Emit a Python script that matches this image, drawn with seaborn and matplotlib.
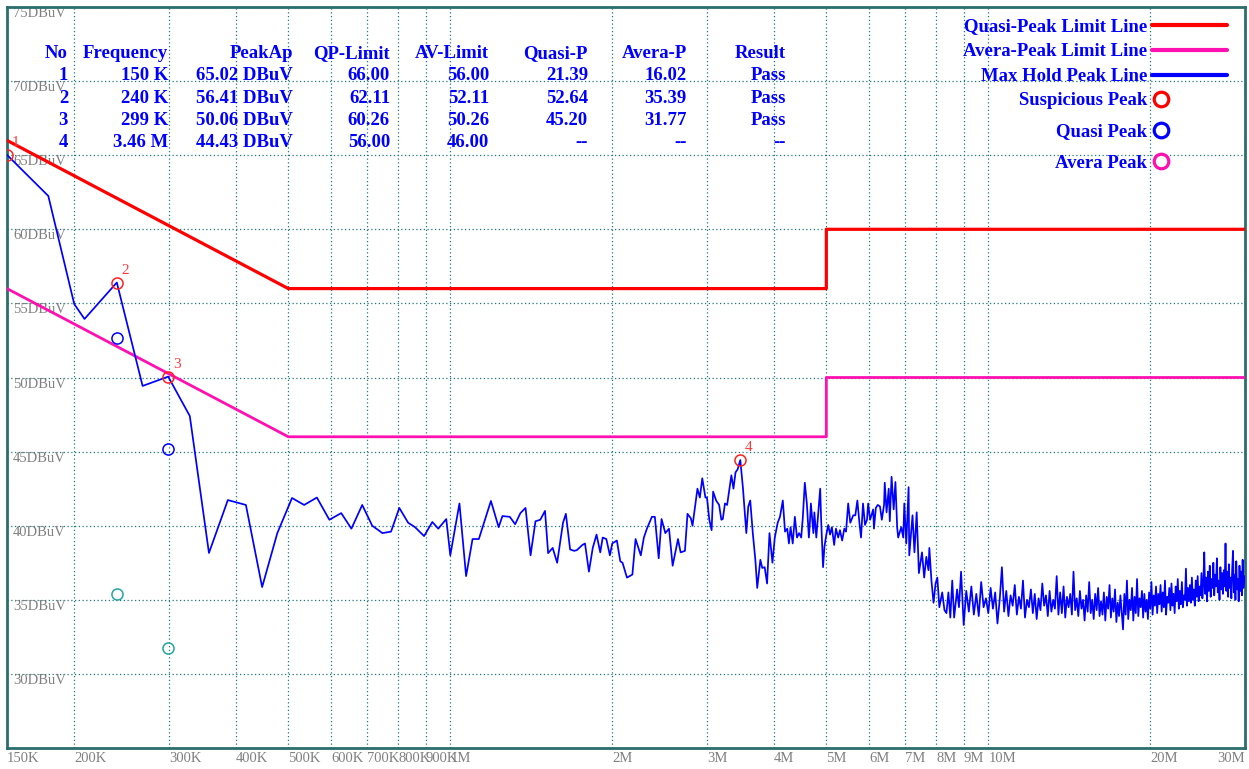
"""
plot.py - conducted emission scan (150 kHz - 30 MHz) with QP / AV limit lines.
"""

import numpy as np
import matplotlib
matplotlib.use("Agg")
import matplotlib.pyplot as plt
import seaborn as sns
from matplotlib.legend_handler import HandlerLine2DCompound
from matplotlib.lines import Line2D

# ---- max hold trace (MHz / dBuV) ----
low_freq = [0.150, 0.179, 0.200, 0.209, 0.240, 0.268, 0.299, 0.328, 0.356, 0.386,
            0.417, 0.447, 0.477, 0.508, 0.535, 0.565, 0.596, 0.627, 0.655, 0.686,
            0.716, 0.748, 0.776, 0.804, 0.835, 0.860, 0.894, 0.926, 0.950, 0.983,
            1.00, 1.04, 1.07, 1.10, 1.13, 1.19, 1.23, 1.25, 1.29, 1.32,
            1.35, 1.38, 1.41, 1.44, 1.47, 1.50, 1.52, 1.55, 1.58, 1.62,
            1.64, 1.67]
low_level = [65.02, 62.25, 54.96, 53.95, 56.41, 49.43, 50.06, 47.4, 38.16, 41.73,
             41.4, 35.86, 39.5, 41.87, 41.4, 41.9, 40.4, 40.85, 39.8, 41.4,
             40.0, 39.5, 39.6, 41.2, 40.2, 39.9, 39.3, 40.25, 39.8, 40.45,
             38.0, 41.5, 36.6, 39.1, 39.1, 41.67, 39.9, 40.65, 40.6, 40.1,
             40.85, 41.2, 38.0, 40.3, 40.4, 41.0, 38.15, 38.5, 37.5, 40.2,
             40.8, 38.4]

mid_freq = [1.70, 1.72, 1.76, 1.78, 1.81, 1.84, 1.87, 1.90, 1.92, 1.95,
            1.98, 2.00, 2.04, 2.07, 2.09, 2.13, 2.18, 2.21, 2.26, 2.29,
            2.32, 2.37, 2.40, 2.44, 2.47, 2.51, 2.55, 2.59, 2.65, 2.68,
            2.73, 2.76, 2.80, 2.82, 2.88, 2.91, 2.94, 2.98, 3.00, 3.03,
            3.06, 3.08, 3.12, 3.16, 3.19, 3.21, 3.24, 3.27, 3.33, 3.36,
            3.39, 3.42, 3.46, 3.50, 3.52, 3.55, 3.58, 3.61, 3.65, 3.69,
            3.72, 3.77, 3.80, 3.84, 3.88, 3.92, 3.97, 4.01, 4.06, 4.10,
            4.15, 4.19, 4.23, 4.26, 4.29, 4.33, 4.37, 4.41, 4.45, 4.49,
            4.52, 4.56, 4.60, 4.64, 4.66, 4.68, 4.73, 4.75, 4.79, 4.83,
            4.87, 4.89, 4.93, 4.96, 5.00, 5.04, 5.08, 5.12, 5.17, 5.21,
            5.26, 5.30, 5.35, 5.40, 5.44, 5.49, 5.54, 5.61, 5.66, 5.71,
            5.76, 5.80, 5.85, 5.90, 5.95, 5.98, 6.03, 6.11, 6.13, 6.18,
            6.23, 6.29, 6.34, 6.40, 6.42, 6.47, 6.53, 6.56, 6.61, 6.67,
            6.72, 6.77, 6.80, 6.89, 6.95, 6.98, 7.04, 7.11, 7.13, 7.23,
            7.29, 7.36, 7.43, 7.53, 7.60, 7.67, 7.74, 7.77, 7.84, 7.91,
            7.98, 8.04, 8.11, 8.21, 8.29, 8.36, 8.43, 8.50, 8.57, 8.64,
            8.75, 8.82]
mid_level = [38.3, 38.36, 38.7, 38.8, 36.9, 38.5, 39.4, 38.2, 39.2, 39.1,
             38.0, 38.8, 39.0, 37.6, 37.5, 36.5, 36.7, 39.1, 38.0, 39.2,
             39.8, 40.6, 40.6, 37.8, 40.45, 39.5, 39.8, 37.3, 39.1, 38.2,
             38.3, 40.8, 40.5, 40.0, 42.5, 41.9, 43.2, 41.9, 41.9, 40.4,
             39.7, 42.3, 41.7, 41.4, 40.4, 40.45, 41.5, 41.4, 43.4, 42.5,
             43.6, 43.8, 44.43, 42.5, 41.3, 39.5, 41.3, 41.7, 39.5, 37.7,
             35.8, 37.7, 37.15, 37.2, 36.1, 39.5, 37.5, 39.2, 40.2, 40.6,
             41.7, 39.6, 39.8, 38.8, 39.9, 38.8, 40.6, 39.2, 39.5, 39.2,
             40.5, 42.9, 41.5, 39.2, 40.2, 41.5, 39.5, 40.9, 39.2, 40.9,
             42.5, 40.4, 37.2, 38.6, 39.4, 40.05, 39.4, 39.9, 38.7, 39.8,
             39.2, 39.7, 39.0, 39.8, 39.6, 41.5, 40.2, 40.7, 40.7, 41.7,
             40.2, 39.2, 41.5, 40.05, 40.4, 41.5, 40.4, 41.1, 39.8, 41.2,
             41.4, 41.3, 40.4, 41.4, 42.9, 40.9, 42.5, 40.3, 43.3, 41.1,
             42.95, 39.9, 39.2, 39.9, 39.2, 41.5, 38.8, 42.6, 38.0, 40.7,
             38.2, 40.9, 36.8, 38.2, 36.5, 37.9, 37.0, 38.5, 36.3, 34.8,
             36.1, 36.5, 34.5, 35.5, 34.3, 34.1, 35.5, 33.8, 36.3, 33.8,
             35.7, 34.5]

high_freq = [8.9, 9.0, 9.1, 9.2, 9.3, 9.4, 9.5, 9.6, 9.7, 9.8,
             9.9, 10.0, 10.1, 10.2, 10.3, 10.4, 10.5, 10.6, 10.7, 10.8,
             10.9, 11.0, 11.1, 11.2, 11.3, 11.4, 11.5, 11.6, 11.7, 11.8,
             11.9, 12.0, 12.1, 12.2, 12.3, 12.4, 12.5, 12.6, 12.7, 12.8,
             12.9, 13.0, 13.1, 13.2, 13.3, 13.4, 13.5, 13.6, 13.7, 13.8,
             13.9, 14.0, 14.1, 14.2, 14.3, 14.4, 14.5, 14.6, 14.7, 14.8,
             14.9, 15.0, 15.1, 15.2, 15.3, 15.4, 15.5, 15.6, 15.7, 15.8,
             15.9, 16.0, 16.1, 16.2, 16.3, 16.4, 16.5, 16.6, 16.7, 16.8,
             16.9, 17.0, 17.1, 17.2, 17.3, 17.4, 17.5, 17.6, 17.7, 17.8,
             17.9, 18.0, 18.1, 18.2, 18.3, 18.4, 18.5, 18.6, 18.7, 18.8,
             18.9, 19.0, 19.1, 19.2, 19.3, 19.4, 19.5, 19.6, 19.7, 19.8,
             19.9, 20.0, 20.1, 20.2, 20.3, 20.4, 20.5, 20.6, 20.7, 20.8,
             20.9, 21.0, 21.1, 21.2, 21.3, 21.4, 21.5, 21.6, 21.7, 21.8,
             21.9, 22.0, 22.1, 22.2, 22.3, 22.4, 22.5, 22.6, 22.7, 22.8,
             22.9, 23.0, 23.1, 23.2, 23.3, 23.4, 23.5, 23.6, 23.7, 23.8,
             23.9, 24.0, 24.1, 24.2, 24.3, 24.4, 24.5, 24.6, 24.7, 24.8,
             24.9, 25.0, 25.1, 25.2, 25.3, 25.4, 25.5, 25.6, 25.7, 25.8,
             25.9, 26.0, 26.1, 26.2, 26.3, 26.4, 26.5, 26.6, 26.7, 26.8,
             26.9, 27.0, 27.1, 27.2, 27.3, 27.4, 27.5, 27.6, 27.7, 27.8,
             27.9, 28.0, 28.1, 28.2, 28.3, 28.4, 28.5, 28.6, 28.7, 28.8,
             28.9, 29.0, 29.1, 29.2, 29.3, 29.4, 29.5, 29.6, 29.7, 29.8,
             29.9, 30.0]
high_level = [36.9, 33.3, 35.6, 34.2, 35.9, 34.0, 35.4, 33.9, 36.2, 34.5,
              35.1, 34.1, 35.8, 34.4, 35.5, 33.4, 35.0, 37.2, 34.2, 35.6,
              33.9, 35.3, 34.6, 36.0, 34.0, 35.2, 34.4, 36.3, 33.8, 35.0,
              34.5, 35.7, 34.1, 35.4, 33.7, 35.1, 34.3, 36.1, 34.6, 35.3,
              33.9, 35.6, 34.2, 35.0, 34.4, 36.6, 34.0, 35.5, 34.1, 35.9,
              33.8, 35.2, 34.5, 35.4, 34.0, 36.9, 34.3, 35.1, 33.9, 35.6,
              34.4, 35.0, 33.6, 35.3, 34.2, 36.2, 34.1, 35.0, 33.7, 35.4,
              34.3, 35.8, 33.9, 34.9, 34.0, 35.5, 33.6, 35.2, 34.4, 36.0,
              33.8, 35.1, 34.2, 35.7, 33.5, 34.8, 33.9, 35.3, 34.1, 33.0,
              35.4, 34.0, 36.3, 33.7, 35.0, 34.3, 35.8, 33.6, 35.2, 34.1,
              36.4, 33.9, 35.1, 34.5, 35.6, 33.8, 35.4, 34.2, 35.0, 33.7,
              35.5, 34.4, 36.2, 34.0, 35.3, 34.6, 35.9, 34.1, 35.4, 34.7,
              36.0, 34.2, 35.5, 34.5, 36.3, 34.0, 35.2, 34.8, 35.8, 34.3,
              36.1, 34.6, 35.4, 34.1, 35.9, 34.9, 36.4, 34.4, 35.6, 34.7,
              36.2, 34.5, 35.3, 35.0, 37.1, 34.6, 35.8, 34.9, 36.0, 34.8,
              36.5, 35.0, 35.7, 34.6, 36.3, 35.2, 36.6, 34.9, 35.9, 35.3,
              36.8, 35.1, 36.2, 38.2, 35.4, 36.5, 34.9, 36.9, 35.6, 37.3,
              35.2, 36.4, 35.8, 37.5, 35.3, 36.7, 35.9, 37.8, 35.5, 36.3,
              35.0, 37.2, 35.7, 36.8, 35.4, 37.0, 35.9, 38.8, 35.6, 36.9,
              35.2, 37.4, 35.8, 36.5, 35.1, 37.1, 38.3, 35.5, 36.7, 35.0,
              37.6, 35.7, 36.4, 34.9, 37.3, 35.6, 36.9, 35.3, 37.7, 35.8,
              36.6, 36.2]

# ---- limit lines ----
qp_limit_freq = [0.15, 0.5, 5.0, 5.0, 30.0]
qp_limit_level = [66.0, 56.0, 56.0, 60.0, 60.0]
av_limit_freq = [0.15, 0.5, 5.0, 5.0, 30.0]
av_limit_level = [56.0, 46.0, 46.0, 50.0, 50.0]

# ---- peaks ----
peak_no = ["1", "2", "3", "4"]
peak_freq = [0.150, 0.240, 0.299, 3.46]
peak_level = [65.02, 56.41, 50.06, 44.43]
qp_freq = [0.240, 0.299]
qp_level = [52.64, 45.20]
av_freq = [0.240, 0.299]
av_level = [35.39, 31.77]

# ---- result table ----
table_header = ["No", "Frequency", "PeakAp", "QP-Limit", "AV-Limit", "Quasi-P", "Avera-P", "Result"]
table_rows = [
    ["1", "150 K", "65.02 DBuV", "66.00", "56.00", "21.39", "16.02", "Pass"],
    ["2", "240 K", "56.41 DBuV", "62.11", "52.11", "52.64", "35.39", "Pass"],
    ["3", "299 K", "50.06 DBuV", "60.26", "50.26", "45.20", "31.77", "Pass"],
    ["4", "3.46 M", "44.43 DBuV", "56.00", "46.00", "--", "--", "--"],
]

# ---- axes ticks ----
x_ticks = [0.15, 0.2, 0.3, 0.4, 0.5, 0.6, 0.7, 0.8, 0.9, 1, 2, 3, 4, 5, 6, 7, 8, 9, 10, 20, 30]
x_labels = ["150K", "200K", "300K", "400K", "500K", "600K", "700K", "800K", "900K", "1M",
            "2M", "3M", "4M", "5M", "6M", "7M", "8M", "9M", "10M", "20M", "30M"]
y_ticks = [30, 35, 40, 45, 50, 55, 60, 65, 70, 75]
y_labels = [f"{v}DBuV" for v in y_ticks]

line_labels = ["Quasi-Peak Limit Line", "Avera-Peak Limit Line", "Max Hold Peak Line"]
marker_labels = ["Suspicious Peak", "Quasi Peak", "Avera Peak"]

# ---- style ----
RED = "#FF0000"
MAGENTA = "#FF10B0"
BLUE = "#0000FF"
TEAL = "#22A6A6"
GRID = "#1E7B7B"
GRAY = "#808080"
SERIF = ["Liberation Serif", "DejaVu Serif"]

sns.set_theme(style="white")
plt.rcParams["font.family"] = SERIF

W, H = 1249, 769
fig = plt.figure(figsize=(W / 100, H / 100), dpi=100)
ax = fig.add_axes([7 / W, 1 - 748 / H, (1245 - 7) / W, (748 - 7) / H])
ax.set_facecolor("white")


def ax_x(px):
    return (px - 7) / 1238


def ax_y(py):
    return 1 - (py - 7) / 741


trace_freq = np.array(low_freq + mid_freq + high_freq)
trace_level = np.array(low_level + mid_level + high_level)
assert len(trace_freq) == len(trace_level)

sns.lineplot(x=qp_limit_freq, y=qp_limit_level, sort=False, estimator=None,
             color=RED, lw=2.3, ax=ax, zorder=3)
sns.lineplot(x=av_limit_freq, y=av_limit_level, sort=False, estimator=None,
             color=MAGENTA, lw=2.0, ax=ax, zorder=3)
sns.lineplot(x=trace_freq, y=trace_level, sort=False, estimator=None,
             color=BLUE, lw=1.25, ax=ax, zorder=4)

ax.plot(peak_freq, peak_level, ls="none", marker="o", ms=8, mfc="none",
        mec="#FF2020", mew=1.1, zorder=5)
ax.plot(qp_freq, qp_level, ls="none", marker="o", ms=8, mfc="none",
        mec=BLUE, mew=1.1, zorder=5)
ax.plot(av_freq, av_level, ls="none", marker="o", ms=8, mfc="none",
        mec=TEAL, mew=1.1, zorder=5)
for num, f, v in zip(peak_no, peak_freq, peak_level):
    ax.annotate(num, (f, v), xytext=(6, 9), textcoords="offset points",
                color="#FF3B3B", fontsize=11, ha="center", va="center", zorder=6)

ax.set_xscale("log")
ax.set_xlim(0.15, 30)
ax.set_ylim(25, 75)
ax.minorticks_off()
ax.set_xticks(x_ticks, labels=x_labels, ha="left")
ax.get_xticklabels()[-1].set_horizontalalignment("right")
ax.set_yticks(y_ticks, labels=y_labels, ha="left", va="top")
ax.tick_params(axis="x", length=0, pad=3, labelsize=10.5, labelcolor=GRAY)
ax.tick_params(axis="y", length=0, pad=-4.3, labelsize=10.5, labelcolor=GRAY)
ax.set_xlabel("")
ax.set_ylabel("")
ax.grid(True, color=GRID, lw=0.9, ls=(0, (1, 2)))
ax.set_axisbelow(True)
for sp in ax.spines.values():
    sp.set_color("#2B6E6E")
    sp.set_linewidth(2)

# result table
col_right = [68, 168, 293, 390, 489, 588, 687, 786]
row_y = [53.5, 75.5, 98.5, 120.5, 142.5]
for r, row in enumerate([table_header] + table_rows):
    for c, txt in enumerate(row):
        ax.text(ax_x(col_right[c]), ax_y(row_y[r]), txt, transform=ax.transAxes,
                ha="right", va="center", color=BLUE, fontsize=13.5,
                fontweight="bold", zorder=7)


class LeftMarker(HandlerLine2DCompound):
    # circle sits right after the label instead of in the middle of the handle
    def get_xdata(self, legend, xdescent, ydescent, width, height, fontsize):
        xdata, _ = super().get_xdata(legend, xdescent, ydescent, width, height, fontsize)
        return xdata, np.array([-xdescent + 6.5])


leg_font = dict(family=SERIF, weight="bold", size=13.5)
line_handles = [Line2D([], [], color=c, lw=3) for c in (RED, MAGENTA, BLUE)]
marker_handles = [Line2D([], [], ls="none", marker="o", ms=10.5, mfc="none", mec=c, mew=2.3)
                  for c in (RED, BLUE, MAGENTA)]

leg1 = ax.legend(line_handles, line_labels, loc="upper right",
                 bbox_to_anchor=(ax_x(1227), ax_y(18)), frameon=False,
                 markerfirst=False, borderpad=0, borderaxespad=0,
                 handlelength=4.0, handletextpad=0.25, labelspacing=0.42,
                 prop=leg_font)
for t in leg1.get_texts():
    t.set_color(BLUE)
ax.add_artist(leg1)

leg2 = ax.legend(marker_handles, marker_labels, loc="upper right",
                 bbox_to_anchor=(ax_x(1227), ax_y(92)), frameon=False,
                 markerfirst=False, borderpad=0, borderaxespad=0,
                 handlelength=4.0, handletextpad=0.25, labelspacing=0.75,
                 prop=leg_font,
                 handler_map={h: LeftMarker() for h in marker_handles})
for t in leg2.get_texts():
    t.set_color(BLUE)

fig.savefig("out.png", dpi=100)
